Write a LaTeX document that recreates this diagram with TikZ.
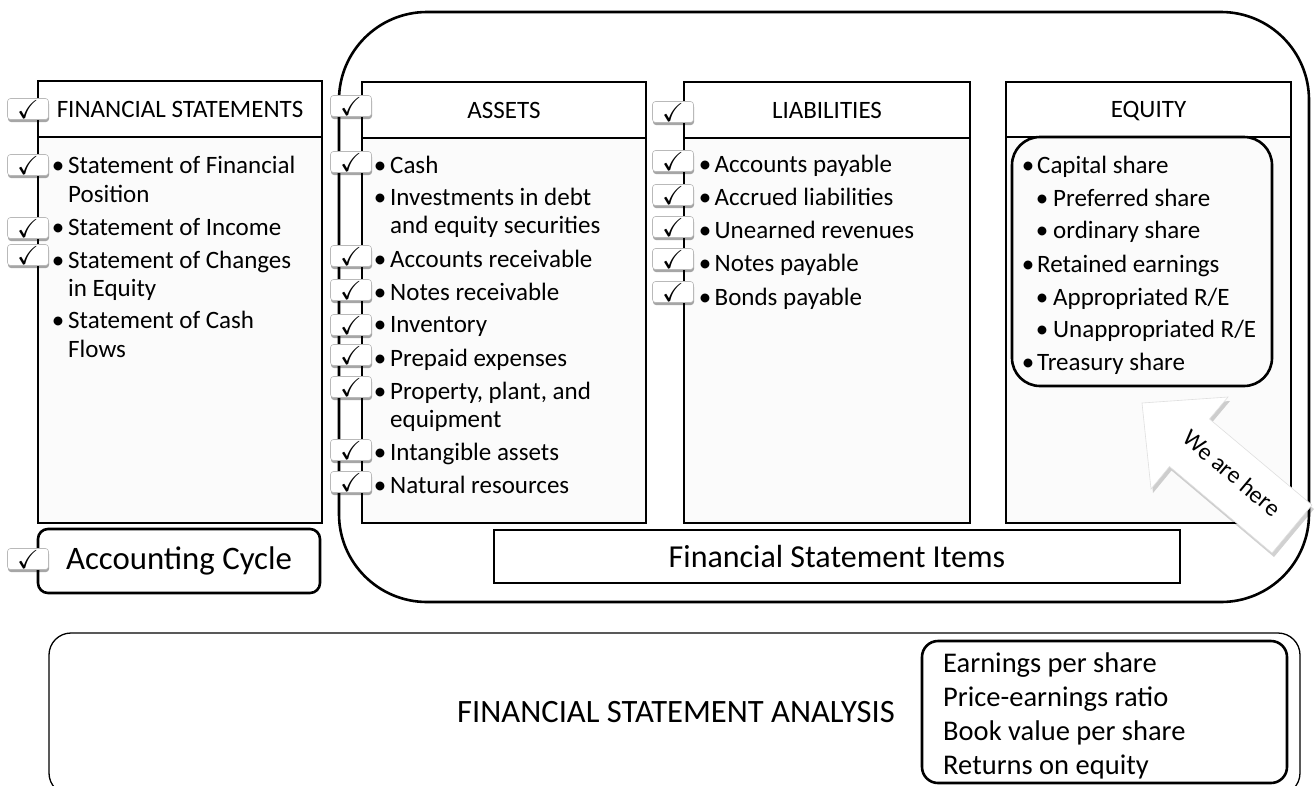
\documentclass[tikz,border=0pt]{standalone}
\usepackage{fontspec}
\setmainfont{Carlito}
\usepackage{amssymb}
\usetikzlibrary{shadows}
\newcommand\fsz[1]{\fontsize{#1}{#1}\selectfont}
\newcommand\bul[1]{\makebox[0pt][c]{•}\hspace{#1}}
\tikzset{
  frame/.style={draw, line width=2.6pt},
  colbox/.style={frame, fill=gray!3, inner sep=0pt},
  hdrbox/.style={frame, fill=white, inner sep=0pt, font=\fsz{25}, text height=16pt, text depth=0pt},
  txt/.style={anchor=base west, inner sep=0pt, font=\fsz{25}},
  chk/.style={draw=gray!55, line width=0.6pt, fill=white, rounded corners=3pt,
    minimum width=41pt, minimum height=21pt, inner sep=0pt,
    drop shadow={shadow xshift=0.5pt, shadow yshift=-2.5pt, opacity=0.35, fill=black}},
}
\newcommand\ck{\raisebox{-2pt}{\fsz{26}$\checkmark$}}
\begin{document}
\begin{tikzpicture}[x=1pt,y=-1pt]
\useasboundingbox[fill=white] (0,0) rectangle (1314,785);

% group of financial statement items
\node[frame, rounded corners=88pt, minimum width=970pt, minimum height=590pt, inner sep=0pt] (group) at (824,307) {};

% columns
\node[colbox, minimum width=284pt, minimum height=386pt] (fsbody) at (180,330) {};
\node[hdrbox, minimum width=284pt, minimum height=56pt] (fshdr) at (180,109) {FINANCIAL STATEMENTS};
\node[colbox, minimum width=284pt, minimum height=385pt] (abody) at (504,330.5) {};
\node[hdrbox, minimum width=284pt, minimum height=56pt] (ahdr) at (504,110) {ASSETS};
\node[colbox, minimum width=286pt, minimum height=385pt] (lbody) at (827,330.5) {};
\node[hdrbox, minimum width=286pt, minimum height=56pt] (lhdr) at (827,110) {LIABILITIES};
\node[colbox, minimum width=285pt, minimum height=386pt] (ebody) at (1148.5,330) {};
\node[hdrbox, minimum width=285pt, minimum height=55pt] (ehdr) at (1148.5,109.5) {EQUITY};
\node[frame, rounded corners=28pt, minimum width=260pt, minimum height=249pt, inner sep=0pt] (einner) at (1142,261.5) {};

% financial statements list
\node[txt] (f1) at (58,173) {\bul{10pt}Statement of Financial};
\node[txt] (f1b) at (68,202) {Position};
\node[txt] (f2) at (58,235) {\bul{10pt}Statement of Income};
\node[txt] (f3) at (58,268) {\bul{10pt}Statement of Changes};
\node[txt] (f3b) at (68,296) {in Equity};
\node[txt] (f4) at (58,328) {\bul{10pt}Statement of Cash};
\node[txt] (f4b) at (68,357) {Flows};

% assets list
\node[txt] (a1) at (380,173) {\bul{10pt}Cash};
\node[txt] (a2) at (380,205) {\bul{10pt}Investments in debt};
\node[txt] (a2b) at (390,233) {and equity securities};
\node[txt] (a3) at (380,267) {\bul{10pt}Accounts receivable};
\node[txt] (a4) at (380,300) {\bul{10pt}Notes receivable};
\node[txt] (a5) at (380,332) {\bul{10pt}Inventory};
\node[txt] (a6) at (380,366) {\bul{10pt}Prepaid expenses};
\node[txt] (a7) at (380,399) {\bul{10pt}Property, plant, and};
\node[txt] (a7b) at (390,427) {equipment};
\node[txt] (a8) at (380,460) {\bul{10pt}Intangible assets};
\node[txt] (a9) at (380,493) {\bul{10pt}Natural resources};

% liabilities list
\node[txt] (l1) at (705,172) {\bul{9.5pt}Accounts payable};
\node[txt] (l2) at (705,205) {\bul{9.5pt}Accrued liabilities};
\node[txt] (l3) at (705,238) {\bul{9.5pt}Unearned revenues};
\node[txt] (l4) at (705,271) {\bul{9.5pt}Notes payable};
\node[txt] (l5) at (705,305) {\bul{9.5pt}Bonds payable};

% equity list
\node[txt] (e1) at (1028,173) {\bul{9pt}Capital share};
\node[txt] (e2) at (1042,206) {\bul{11pt}Preferred share};
\node[txt] (e3) at (1042,238) {\bul{11pt}ordinary share};
\node[txt] (e4) at (1028,272) {\bul{9pt}Retained earnings};
\node[txt] (e5) at (1042,305) {\bul{11pt}Appropriated R/E};
\node[txt] (e6) at (1042,337) {\bul{11pt}Unappropriated R/E};
\node[txt] (e7) at (1028,370) {\bul{9pt}Treasury share};

% accounting cycle
\node[frame, rounded corners=10pt, minimum width=282pt, minimum height=64pt, inner sep=0pt, fill=white, font=\fsz{32.8}] (acc) at (179,561) {Accounting Cycle};

% financial statement items label
\node[frame, fill=white, minimum width=686pt, minimum height=53pt, inner sep=0pt, font=\fsz{32}] (fsi) at (837,556.5) {Financial Statement Items};

% check boxes: financial statements
\node[chk] (cf0) at (28,109) {\ck};
\node[chk] (cf1) at (28,165) {\ck};
\node[chk] (cf2) at (28,228) {\ck};
\node[chk] (cf3) at (28,255) {\ck};
\node[chk] (cacc) at (28,559) {\ck};
% check boxes: assets
\node[chk] (ca0) at (351,106) {\ck};
\node[chk] (ca1) at (351,162) {\ck};
\node[chk] (ca3) at (351,256) {\ck};
\node[chk] (ca4) at (351,290) {\ck};
\node[chk] (ca5) at (351,325) {\ck};
\node[chk] (ca6) at (351,355) {\ck};
\node[chk] (ca7) at (351,387) {\ck};
\node[chk] (ca8) at (351,450) {\ck};
\node[chk] (ca9) at (351,482) {\ck};
% check boxes: liabilities
\node[chk] (cl0) at (673,112) {\ck};
\node[chk] (cl1) at (673,161) {\ck};
\node[chk] (cl2) at (673,195) {\ck};
\node[chk] (cl3) at (673,227) {\ck};
\node[chk] (cl4) at (673,259) {\ck};
\node[chk] (cl5) at (673,292) {\ck};

% "We are here" arrow
\coordinate (tip) at (1142,403);
\coordinate (h1) at (1228,397);
\coordinate (s1) at (1209.5,419);
\coordinate (t1) at (1312,505);
\coordinate (t2) at (1272,553);
\coordinate (s2) at (1169.5,466.5);
\coordinate (h2) at (1151,489);
\fill[black, opacity=0.18] ([shift={(2,4)}]tip) -- ([shift={(2,4)}]h1) -- ([shift={(2,4)}]s1) -- ([shift={(2,4)}]t1) -- ([shift={(2,4)}]t2) -- ([shift={(2,4)}]s2) -- ([shift={(2,4)}]h2) -- cycle;
\filldraw[fill=white, draw=gray!25, line width=0.6pt] (tip) -- (h1) -- (s1) -- (t1) -- (t2) -- (s2) -- (h2) -- cycle;
\node[rotate=-40, font=\fsz{24}, inner sep=0pt] (here) at (1232,473) {We are here};

% financial statement analysis
\node[draw, line width=1.3pt, rounded corners=22pt, minimum width=1251pt, minimum height=162pt, inner sep=0pt] (fsa) at (674.5,714) {};
\node[font=\fsz{32.6}, inner sep=0pt] (fsalbl) at (676,712) {FINANCIAL STATEMENT ANALYSIS};
\node[frame, rounded corners=16pt, minimum width=365pt, minimum height=142pt, inner sep=0pt] (ratios) at (1104.5,712) {};
\node[txt, font=\fsz{28.5}] (r1) at (943,672) {Earnings per share};
\node[txt, font=\fsz{28.5}] (r2) at (943,706) {Price-earnings ratio};
\node[txt, font=\fsz{28.5}] (r3) at (943,740) {Book value per share};
\node[txt, font=\fsz{28.5}] (r4) at (943,774) {Returns on equity};
\end{tikzpicture}
\end{document}
